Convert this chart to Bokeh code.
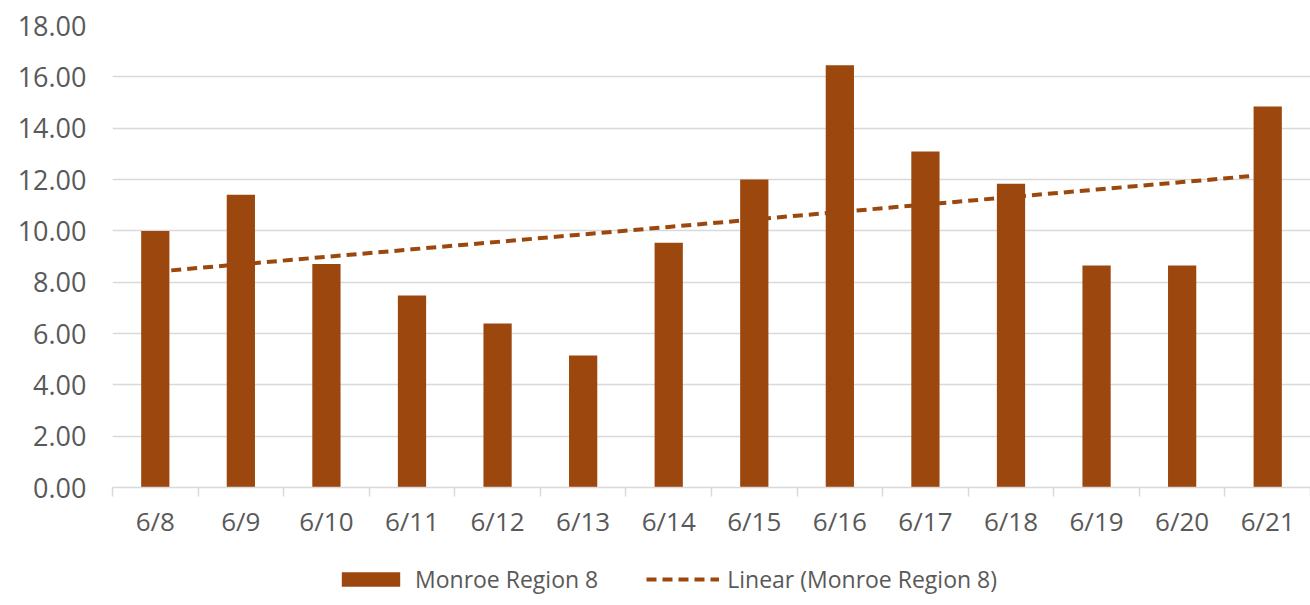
import numpy as np
from bokeh.plotting import figure
from bokeh.layouts import column
from bokeh.models import ColumnDataSource, FixedTicker, Legend, LegendItem, Range1d
from bokeh.embed import file_html
from bokeh.resources import INLINE

# ---- data ----
dates = ["6/8", "6/9", "6/10", "6/11", "6/12", "6/13", "6/14",
         "6/15", "6/16", "6/17", "6/18", "6/19", "6/20", "6/21"]
values = [9.99, 11.41, 8.71, 7.48, 6.39, 5.14, 9.54,
          12.00, 16.45, 13.09, 11.83, 8.65, 8.65, 14.84]
y_ticks = [0, 2, 4, 6, 8, 10, 12, 14, 16, 18]
series_name = "Monroe Region 8"
trend_name = "Linear (Monroe Region 8)"

BAR = "#9C470E"
TEXT = "#595959"
GRID = "#D9D9D9"
FONT = "Open Sans"

idx = np.arange(len(dates))
xc = idx + 0.5
slope, intercept = np.polyfit(idx, np.array(values), 1)
trend = slope * idx + intercept

src = ColumnDataSource(dict(x=xc, top=values))
tsrc = ColumnDataSource(dict(x=xc, y=trend))

p = figure(width=1310, height=550, output_backend="svg", toolbar_location=None,
           x_range=Range1d(0, len(dates)), y_range=Range1d(0, 18),
           min_border_left=112, min_border_right=0, min_border_top=25,
           min_border_bottom=63)
p.outline_line_color = None
p.background_fill_color = "white"
p.border_fill_color = "white"

bars = p.vbar(x="x", top="top", width=0.33, source=src, fill_color=BAR, line_color=None)
tl = p.line(x="x", y="y", source=tsrc, line_color=BAR, line_width=4, line_dash="10 6")

# y axis
p.yaxis.ticker = FixedTicker(ticks=y_ticks)
p.yaxis.major_label_overrides = {t: f"{t:.2f}" for t in y_ticks}
p.yaxis.axis_line_color = None
p.yaxis.major_tick_line_color = None
p.yaxis.minor_tick_line_color = None
p.yaxis.major_tick_out = 0
p.yaxis.major_label_standoff = 26
p.yaxis.major_label_text_font = FONT
p.yaxis.major_label_text_font_size = "27px"
p.yaxis.major_label_text_color = TEXT

p.ygrid.ticker = FixedTicker(ticks=y_ticks)
p.ygrid.grid_line_color = GRID
p.ygrid.grid_line_width = 1.5
p.xgrid.grid_line_color = None

# x axis
p.xaxis.ticker = FixedTicker(ticks=list(xc), minor_ticks=list(range(len(dates) + 1)))
p.xaxis.major_label_overrides = {float(x): d for x, d in zip(xc, dates)}
p.xaxis.axis_line_color = GRID
p.xaxis.axis_line_width = 1.5
p.xaxis.major_tick_line_color = None
p.xaxis.major_tick_out = 0
p.xaxis.major_tick_in = 0
p.xaxis.minor_tick_line_color = GRID
p.xaxis.minor_tick_line_width = 1.5
p.xaxis.minor_tick_out = 9
p.xaxis.minor_tick_in = 0
p.xaxis.major_label_standoff = 6
p.xaxis.major_label_text_font = FONT
p.xaxis.major_label_text_font_size = "26px"
p.xaxis.major_label_text_color = TEXT

# ---- legend strip below the chart (same series, ranges put the marks out of view) ----
lg = figure(width=1310, height=55, output_backend="svg", toolbar_location=None,
            x_range=Range1d(1000, 1001), y_range=Range1d(1000, 1001),
            x_axis_location=None, y_axis_location=None,
            min_border_left=0, min_border_right=0, min_border_top=0, min_border_bottom=0)
lg.outline_line_color = None
lg.xgrid.visible = False
lg.ygrid.visible = False
lbar = lg.vbar(x="x", top="top", width=0.33, source=src, fill_color=BAR, line_color=None)
lline = lg.line(x="x", y="y", source=tsrc, line_color=BAR, line_width=4, line_dash="10 6")

legend = Legend(items=[LegendItem(label=series_name, renderers=[lbar]),
                       LegendItem(label=trend_name, renderers=[lline])],
                orientation="horizontal", location=(222, 10),
                label_text_font=FONT, label_text_font_size="23px",
                label_text_color=TEXT, glyph_width=73, glyph_height=18,
                spacing=48, label_standoff=8, padding=2, margin=0,
                border_line_color=None, background_fill_alpha=0)
lg.add_layout(legend, "center")

open("out.html", "w").write(file_html(column(p, lg, spacing=0), INLINE))
